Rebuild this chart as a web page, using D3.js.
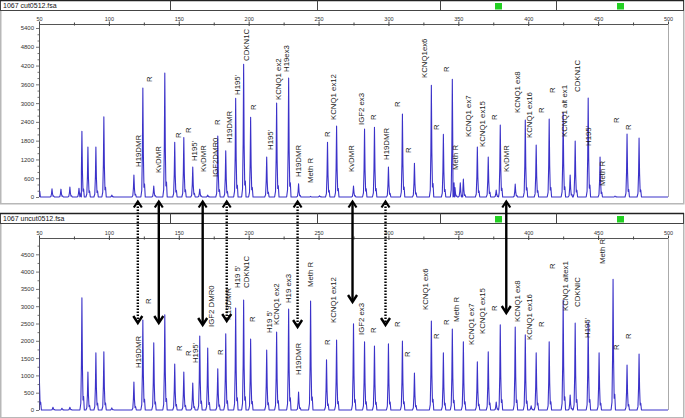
<!DOCTYPE html>
<html>
<head>
<meta charset="utf-8">
<script src="https://cdnjs.cloudflare.com/ajax/libs/d3/7.8.5/d3.min.js"></script>
<style>
  body { margin: 0; background: #fff; }
  svg { display: block; font-family: "Liberation Sans", Arial, sans-serif; }
</style>
</head>
<body>
<svg id="chart" width="685" height="418"></svg>
<script>
// size (bp) ticks along the top of each trace
var sizeTicks = [50, 75, 100, 125, 150, 175, 200, 225, 250, 275, 300, 325, 350, 375, 400, 425, 450, 475, 500];
var sizeLabels = [50, 100, 150, 200, 250, 300, 350, 400, 450, 500];

// y ticks (rfu)
var cutYTicks = [0, 200, 400, 600, 800, 1000, 1200, 1400, 1600, 1800, 2000, 2200, 2400, 2600, 2800, 3000, 3200, 3400, 3600, 3800, 4000, 4200, 4400, 4600, 4800, 5000, 5200, 5400];
var cutYLabels = [0, 600, 1200, 1800, 2400, 3000, 3600, 4200, 4800, 5400];
var uncutYTicks = [0, 250, 500, 750, 1000, 1250, 1500, 1750, 2000, 2250, 2500, 2750, 3000, 3250, 3500, 3750, 4000, 4250, 4500, 4750];
var uncutYLabels = [0, 500, 1000, 1500, 2000, 2500, 3000, 3500, 4000, 4500];

// peaks: [size bp, height rfu]
var cutPeaks = [
  [49.3, 1550], [59.3, 260], [65.7, 250], [72.1, 320], [78.6, 280], [80.7, 2100], [85, 1600], [90.7, 1600],
  [96.4, 2560], [102.1, 60], [117.9, 700], [124.3, 3480], [132.1, 350], [140, 3960], [147.1, 1750],
  [153.6, 1900], [160, 960], [165, 250], [170.7, 60], [177.9, 1950], [183.6, 1480], [190.7, 3150],
  [196.4, 4240], [201.4, 2550], [212.9, 1280], [220, 3000], [228.6, 3800], [235.7, 420], [244.3, 20],
  [250.7, 40], [256.4, 1750], [262.9, 2270], [275, 350], [282.9, 2170], [290, 2230], [300, 960],
  [310, 2650], [318.6, 1080], [330.7, 3570], [339.3, 2000], [345.7, 3760], [347.6, 300], [351.4, 450],
  [353.6, 570], [363.6, 1600], [371.4, 1280], [377.1, 220], [380, 2300], [390.7, 410], [397.9, 2460],
  [405.7, 1660], [415, 2490], [425, 2700], [430, 700], [433.6, 1790], [442.9, 3160], [451.4, 1280],
  [462.1, 30], [470.7, 2010], [479.3, 1880]
];
var uncutPeaks = [
  [50, 1880], [60, 80], [66.4, 50], [72.1, 80], [80.7, 3240], [85, 1100], [90.7, 1650], [96.4, 1680],
  [102.1, 60], [117.9, 810], [124.3, 2600], [132.1, 1940], [140, 2750], [147.1, 1330], [153.6, 1100],
  [160, 780], [165, 2140], [170.7, 1790], [177.9, 1190], [183.6, 2200], [190.7, 2950], [196.4, 3180],
  [201.4, 2050], [212.9, 1730], [220, 2250], [228.6, 2920], [235.7, 520], [244.3, 3150], [255.7, 1450],
  [262.9, 2020], [275, 2490], [282.9, 1970], [290, 1850], [300, 1910], [310, 1990], [318.6, 1070],
  [330.7, 2570], [339.3, 1650], [345.7, 2340], [353.6, 1970], [363.6, 1390], [371.4, 1680], [377.1, 230],
  [380, 2460], [390.7, 2400], [397.9, 2170], [402.1, 120], [405.7, 1650], [415, 1970], [425, 3180],
  [430, 430], [433.6, 2510], [442.9, 2540], [450.7, 1650], [460.7, 3780], [470.7, 1300], [479.3, 1620]
];

// peak labels: [size bp, rfu at foot of the text, text]
var cutLabels = [
  [120.7, 959, "H19DMR"], [128.6, 3675, "R"], [135, 767, "KvDMR"], [149.3, 1886, "R"], [156.4, 2045, "R"],
  [160.7, 1150, "H195'"], [167.1, 799, "KvDMR"], [175.7, 639, "IGF2DMR0"], [177.1, 2301, "R"],
  [185.7, 1726, "H19DMR"], [191.4, 3260, "H195'"], [197.9, 4347, "CDKN1C"], [202.9, 2780, "R"],
  [215, 1502, "H195'"], [220.7, 3100, "KCNQ1 ex2"], [226.4, 3995, "H19ex3"], [235, 639, "H19DMR"],
  [243.6, 447, "Meth R"], [255.7, 1918, "R"], [260, 2461, "KCNQ1 ex12"], [272.9, 799, "KvDMR"],
  [280.7, 2301, "IGF2 ex3"], [288.6, 2461, "R"], [297.9, 1183, "H19DMR"], [306.4, 2876, "R"],
  [314.3, 1406, "R"], [325.7, 3803, "KCNQ1ex6"], [334.3, 2141, "R"], [341.4, 3995, "R"],
  [347.9, 863, "Meth R"], [357.1, 1918, "KCNQ1 ex7"], [367.1, 1598, "KCNQ1 ex15"], [375.7, 2461, "R"],
  [384.3, 799, "KvDMR"], [392.1, 2685, "KCNQ1 ex8"], [400.7, 1886, "KCNQ1 ex16"], [409.3, 2685, "R"],
  [417.1, 3324, "R"], [425.7, 1918, "KCNQ1 alt ex1"], [435, 3356, "CDKN1C"], [442.9, 1630, "H195'"],
  [452.9, 352, "Meth R"], [462.9, 2365, "R"], [471.4, 2141, "R"]
];
var uncutLabels = [
  [120.7, 1214, "H19DMR"], [127.9, 3063, "R"], [150, 1705, "R"], [156.4, 1560, "R"], [161.4, 1358, "H195'"],
  [172.9, 2399, "IGF2 DMR0"], [179.3, 1590, "R"], [185, 2601, "H19DMR"], [191.4, 3526, "H19 5'"],
  [197.9, 3526, "CDKN1C"], [202.1, 2543, "R"], [214.3, 2225, "H19 5'"], [219.3, 2457, "KCNQ1 ex2"],
  [227.9, 3092, "H19 ex3"], [235, 1012, "H19DMR"], [243.6, 3555, "Meth R"], [255.7, 1879, "R"],
  [260, 2514, "KCNQ1 ex12"], [280.7, 2168, "IGF2 ex3"], [288.6, 2225, "R"], [306.4, 2399, "R"],
  [313.6, 1532, "R"], [326.4, 2890, "KCNQ1 ex6"], [334.3, 2052, "R"], [341.4, 2457, "R"],
  [348.6, 2543, "Meth R"], [359.3, 1879, "KCNQ1 ex7"], [367.1, 2196, "KCNQ1 ex15"], [375.7, 2861, "R"],
  [392.1, 2543, "KCNQ1 ex8"], [400.7, 2023, "KCNQ1 ex16"], [409.3, 2399, "R"], [417.1, 4075, "R"],
  [426.4, 2861, "KCNQ1 altex1"], [435, 2977, "CDKNIC"], [442.1, 2081, "H195'"], [452.9, 4219, "Meth R"],
  [462.9, 1734, "R"], [471.4, 2052, "R"]
];

// arrows linking the two traces: size, dotted or solid, rfu of the lower tip
var arrowSizes = [120.7, 135.7, 167.1, 184.3, 235, 274.3, 297.9, 384.3];
var arrowDotted = [true, false, false, true, true, false, true, false];
var arrowEnds = [2514, 2514, 2457, 2572, 2399, 3121, 2457, 2803];

var svg = d3.select("#chart");
var traceColor = "#3b32c9";

var x = d3.scaleLinear().domain([50, 500]).range([39, 668]);

var panels = [
  { name: "1067  cut0512.fsa", top: 0, bottom: 203, axisY: 24, base: 197, yMax: 5400, yTop: 28,
    yTicks: cutYTicks, yLabels: cutYLabels, peaks: cutPeaks, labels: cutLabels },
  { name: "1067  uncut0512.fsa", top: 213, bottom: 417, axisY: 238, base: 410, yMax: 5000, yTop: 237,
    yTicks: uncutYTicks, yLabels: uncutYLabels, peaks: uncutPeaks, labels: uncutLabels }
];

// narrow peak outline, px offsets and fraction of height
var peakShape = [[-2, 0], [-1.1, 0.06], [-0.5, 0.4], [0, 1], [0.5, 0.4], [1.1, 0.09], [1.7, 0.12], [2.4, 0]];

panels.forEach(function (p, pi) {
  var y = d3.scaleLinear().domain([0, p.yMax]).range([p.base, p.yTop]);
  p.y = y;
  var g = svg.append("g");

  // panel frame
  g.append("rect")
    .attr("x", 0.75).attr("y", p.top + 0.75)
    .attr("width", 683).attr("height", p.bottom - p.top)
    .attr("fill", "none").attr("stroke", "#b8b8b8").attr("stroke-width", 1.5);

  // header bar
  g.append("rect")
    .attr("x", 0.5).attr("y", p.top + 0.5)
    .attr("width", 683).attr("height", 10)
    .attr("fill", "#fff").attr("stroke", "#444").attr("stroke-width", 1);
  g.append("line")
    .attr("x1", 0).attr("x2", 684).attr("y1", p.top + 0.5).attr("y2", p.top + 0.5)
    .attr("stroke", "#222").attr("stroke-width", 1.5);
  [170, 317, 440, 556].forEach(function (dx) {
    g.append("line")
      .attr("x1", dx + 0.5).attr("x2", dx + 0.5)
      .attr("y1", p.top + 0.5).attr("y2", p.top + 10.5)
      .attr("stroke", "#444");
  });
  [495, 617].forEach(function (gx) {
    g.append("rect")
      .attr("x", gx).attr("y", p.top + 3)
      .attr("width", 7).attr("height", 6.5)
      .attr("fill", "#22d022");
  });
  g.append("text")
    .attr("x", 3).attr("y", p.top + 8.3)
    .attr("font-size", "7px").attr("fill", "#111")
    .text(p.name);

  // size axis on top
  var xAxis = d3.axisTop(x)
    .tickValues(sizeTicks)
    .tickSize(2).tickSizeOuter(0).tickPadding(1.5)
    .tickFormat(function (d) { return sizeLabels.indexOf(d) >= 0 ? d : ""; });
  var gx = g.append("g")
    .attr("transform", "translate(0," + p.axisY + ")")
    .call(xAxis);
  gx.select(".domain").attr("stroke", "#555");
  gx.selectAll(".tick line")
    .attr("stroke", "#444")
    .attr("y1", function (d) { return sizeLabels.indexOf(d) >= 0 ? 2 : 1.5; })
    .attr("y2", function (d) { return sizeLabels.indexOf(d) >= 0 ? -2.5 : -1.5; });
  gx.selectAll(".tick text")
    .attr("font-size", "5.5px").attr("fill", "#333")
    .attr("font-family", "'Liberation Sans', Arial, sans-serif");

  // rfu axis on the left
  var yAxis = d3.axisLeft(y)
    .tickValues(p.yTicks)
    .tickSize(3).tickSizeOuter(0).tickPadding(2)
    .tickFormat(function (d) { return p.yLabels.indexOf(d) >= 0 ? d : ""; });
  var gy = g.append("g")
    .attr("transform", "translate(39,0)")
    .call(yAxis);
  gy.select(".domain").remove();
  gy.selectAll(".tick line")
    .attr("stroke", "#777")
    .attr("x2", function (d) { return p.yLabels.indexOf(d) >= 0 ? -3 : -1.5; });
  gy.selectAll(".tick text")
    .attr("font-size", "6px").attr("fill", "#333")
    .attr("font-family", "'Liberation Sans', Arial, sans-serif");
  g.append("line")
    .attr("x1", 39.5).attr("x2", 39.5).attr("y1", p.axisY).attr("y2", p.base)
    .attr("stroke", "#555");
  g.append("line")
    .attr("x1", 668.5).attr("x2", 668.5).attr("y1", p.axisY).attr("y2", p.base)
    .attr("stroke", "#aaa");

  // trace
  g.append("clipPath").attr("id", "clip" + pi)
    .append("rect")
    .attr("x", 39.5).attr("y", p.axisY)
    .attr("width", 629).attr("height", p.base - p.axisY + 2);

  var pts = [[39, y(0)], [668, y(0)]];
  p.peaks.forEach(function (pk) {
    peakShape.forEach(function (s) {
      pts.push([x(pk[0]) + s[0], y(pk[1] * s[1])]);
    });
  });
  pts.sort(function (a, b) { return a[0] - b[0]; });

  g.append("path")
    .attr("clip-path", "url(#clip" + pi + ")")
    .attr("d", d3.line()(pts))
    .attr("fill", "none")
    .attr("stroke", traceColor)
    .attr("stroke-width", 1.1)
    .attr("stroke-linejoin", "round");

  // peak labels, reading upward
  g.selectAll(".peakLabel")
    .data(p.labels)
    .enter()
    .append("text")
    .attr("class", "peakLabel")
    .attr("transform", function (d) {
      return "translate(" + (x(d[0]) + 3) + "," + y(d[1]) + ") rotate(-90)";
    })
    .attr("font-size", "7.8px")
    .attr("fill", "#1a1a1a")
    .text(function (d) { return d[2]; });
});

// arrows between the cut and uncut traces
var arrowTop = 201.5;
var yUncut = panels[1].y;
var ag = svg.append("g");
arrowSizes.forEach(function (s, i) {
  var ax = x(s);
  var tip = yUncut(arrowEnds[i]);
  ag.append("line")
    .attr("x1", ax).attr("x2", ax)
    .attr("y1", arrowTop + (arrowDotted[i] ? 2 : 1))
    .attr("y2", tip - 1.5)
    .attr("stroke", "#000")
    .attr("stroke-width", 2.4)
    .attr("stroke-dasharray", arrowDotted[i] ? "1.6,1.4" : null);
  if (arrowDotted[i]) {
    ag.append("path")
      .attr("d", "M" + (ax - 4) + "," + (arrowTop + 6) + "L" + ax + "," + arrowTop + "L" + (ax + 4) + "," + (arrowTop + 6))
      .attr("fill", "none").attr("stroke", "#000").attr("stroke-width", 2.2);
  } else {
    ag.append("path")
      .attr("d", "M" + (ax - 4) + "," + (arrowTop + 6) + "L" + ax + "," + arrowTop + "L" + (ax + 4) + "," + (arrowTop + 6))
      .attr("fill", "none").attr("stroke", "#000").attr("stroke-width", 2.2);
  }
  ag.append("path")
    .attr("d", "M" + (ax - 4.5) + "," + (tip - 7) + "L" + ax + "," + tip + "L" + (ax + 4.5) + "," + (tip - 7))
    .attr("fill", "none").attr("stroke", "#000").attr("stroke-width", 2.4);
});
</script>
</body>
</html>
